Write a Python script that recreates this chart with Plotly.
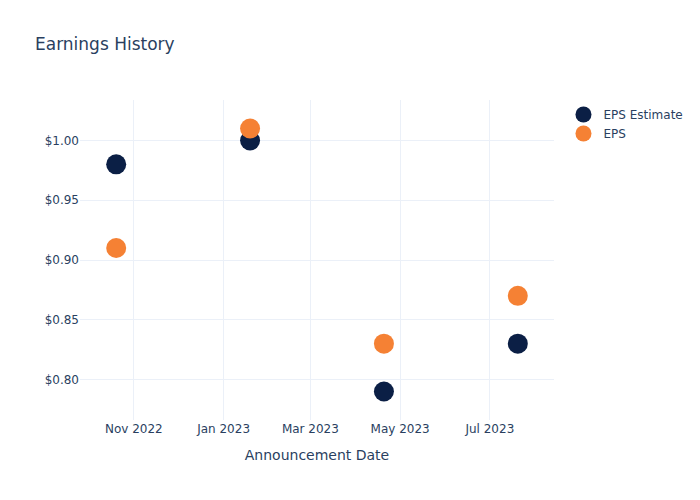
import plotly.graph_objects as go

dates = ["2022-10-20", "2023-01-19", "2023-04-20", "2023-07-20"]
eps_estimate = [0.98, 1.00, 0.79, 0.83]
eps_actual = [0.91, 1.01, 0.83, 0.87]

fig = go.Figure()
fig.add_trace(go.Scatter(x=dates, y=eps_estimate, mode="markers", name="EPS Estimate",
                         marker=dict(color="#0b1f45", size=20)))
fig.add_trace(go.Scatter(x=dates, y=eps_actual, mode="markers", name="EPS",
                         marker=dict(color="#f58134", size=20)))
fig.update_layout(
    template="plotly_white",
    width=700, height=500,
    font=dict(family="DejaVu Sans"),
    title=dict(text="Earnings History"),
    xaxis=dict(title=dict(text="Announcement Date")),
    yaxis=dict(tickprefix="$", tickformat=".2f"),
)
fig.write_html("out.html")
